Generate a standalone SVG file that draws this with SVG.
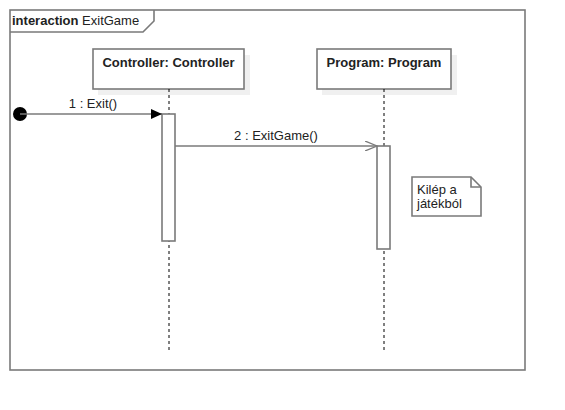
<svg xmlns="http://www.w3.org/2000/svg" width="565" height="410" viewBox="0 0 565 410">
<style>
.ln{stroke:#7a7a7a;stroke-width:1.6;fill:none}
.box{fill:#fff;stroke:#7a7a7a;stroke-width:1.6}
.sh{fill:#f0f0f0}
.life{stroke:#000;stroke-width:1;stroke-dasharray:3,3}
text{font-family:"Liberation Sans",Arial,sans-serif;font-size:13px;fill:#222}
.b{font-weight:bold}
</style>
<defs>
<marker id="fill" markerWidth="12" markerHeight="10" refX="11" refY="5" orient="auto" markerUnits="userSpaceOnUse">
<path d="M0,0 L11,5 L0,10 Z" fill="#000"/>
</marker>
<marker id="open" markerWidth="14" markerHeight="10" refX="12" refY="5" orient="auto" markerUnits="userSpaceOnUse">
<path d="M0,0 L12,5 L0,10" fill="none" stroke="#7a7a7a" stroke-width="1.3"/>
</marker>
</defs>
<g id="frame">
<rect x="10" y="10" width="515" height="360" class="ln"/>
<path d="M10,32 L143,32 L154,21 L154,10" class="ln"/>
<text x="12" y="25"><tspan class="b">interaction</tspan> ExitGame</text>
</g>
<g id="controller">
<rect x="98" y="55" width="152" height="40" class="sh"/>
<rect x="93" y="49" width="151" height="40" class="box"/>
<text x="168.5" y="67" class="b" text-anchor="middle">Controller: Controller</text>
<line x1="169" y1="89" x2="169" y2="352" class="life"/>
<rect x="162" y="114" width="13" height="127" class="box"/>
</g>
<g id="program">
<rect x="322" y="55" width="135" height="40" class="sh"/>
<rect x="317" y="49" width="134" height="40" class="box"/>
<text x="384" y="67" class="b" text-anchor="middle">Program: Program</text>
<line x1="384" y1="89" x2="384" y2="352" class="life"/>
<rect x="377" y="146" width="13" height="103" class="box"/>
</g>
<g id="note">
<path d="M412,177 L471,177 L481,187 L481,216 L412,216 Z" class="box"/>
<path d="M471,177 L471,187 L481,187" class="ln" stroke-width="1"/>
<text x="417" y="194">Kilép a</text>
<text x="417" y="208">játékból</text>
</g>
<g id="connectors">
<circle cx="20" cy="114" r="7" fill="#000"/>
<line x1="20" y1="114" x2="162" y2="114" class="ln" marker-end="url(#fill)"/>
<text x="93" y="108" text-anchor="middle">1 : Exit()</text>
<line x1="175" y1="146" x2="377" y2="146" class="ln" marker-end="url(#open)"/>
<text x="276" y="140" text-anchor="middle">2 : ExitGame()</text>
</g>
</svg>
